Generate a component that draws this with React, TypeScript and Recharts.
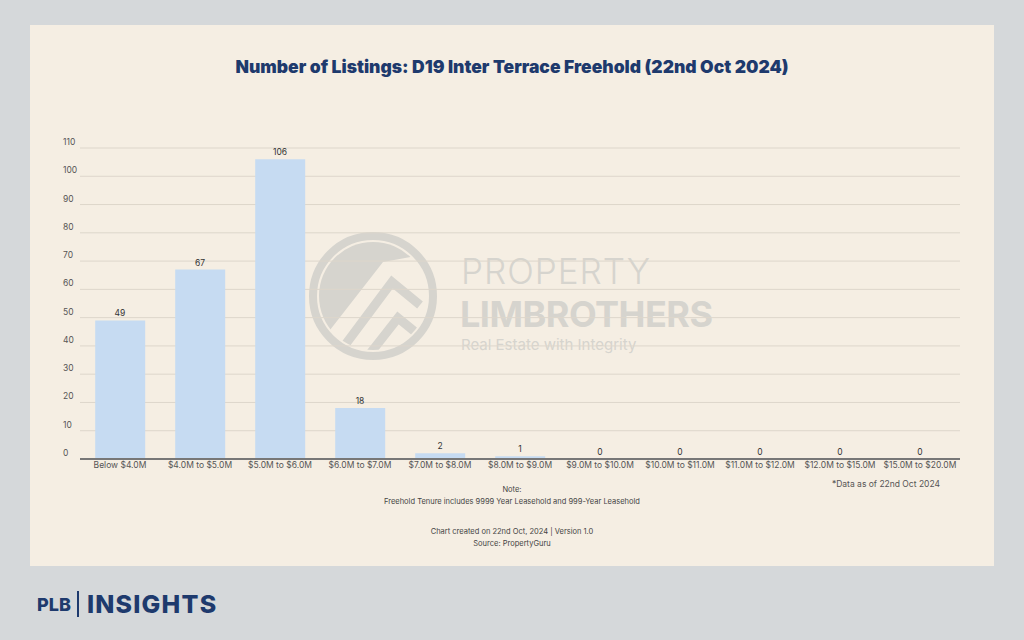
import React from 'react';
import { ComposedChart, Bar, Line, XAxis, YAxis, CartesianGrid, LabelList } from 'recharts';

const priceBands = [
  'Below $4.0M',
  '$4.0M to $5.0M',
  '$5.0M to $6.0M',
  '$6.0M to $7.0M',
  '$7.0M to $8.0M',
  '$8.0M to $9.0M',
  '$9.0M to $10.0M',
  '$10.0M to $11.0M',
  '$11.0M to $12.0M',
  '$12.0M to $15.0M',
  '$15.0M to $20.0M',
];
const listings = [49, 67, 106, 18, 2, 1, 0, 0, 0, 0, 0];
const yTicks = [0, 10, 20, 30, 40, 50, 60, 70, 80, 90, 100, 110];

const NAVY = '#1e3a6d';
const FONT = 'Inter, "Noto Sans", sans-serif';

const chartData = priceBands.map((band, i) => ({ band, listings: listings[i] }));

// y labels sit left-aligned, just above their gridline
const YTick = (props: any) => {
  const { y, payload } = props;
  return (
    <text x={63} y={y - 3} fontSize={8.5} fill="#555" fontFamily={FONT} textAnchor="start">
      {payload.value}
    </text>
  );
};

function Watermark() {
  return (
    <svg width={1024} height={640} style={{ position: 'absolute', left: 0, top: 0, pointerEvents: 'none' }}>
      <defs>
        <clipPath id="inner">
          <circle cx={373} cy={296} r={54} />
        </clipPath>
      </defs>
      <circle cx={373} cy={296} r={60} fill="none" stroke="#d6d4ce" strokeWidth={8} />
      <g clipPath="url(#inner)">
        <polygon points="300,230 450,230 450,250 383,262 330,330 300,330" fill="#d6d4ce" />
        <polyline points="345,345 392,282 420,305" fill="none" stroke="#d6d4ce" strokeWidth={9} />
        <polyline points="365,360 398,318 425,340" fill="none" stroke="#d6d4ce" strokeWidth={9} />
      </g>
      <text x={461} y={284} fontSize={35} fontWeight={300} fill="#d6d4ce" fontFamily={FONT} letterSpacing={1}>
        PROPERTY
      </text>
      <text x={460} y={327} fontSize={36} fontWeight={700} fill="#d6d4ce" fontFamily={FONT} letterSpacing={-0.5}>
        LIMBROTHERS
      </text>
      <text x={461} y={350} fontSize={15} fontWeight={400} fill="#d6d4ce" fontFamily={FONT}>
        Real Estate with Integrity
      </text>
    </svg>
  );
}

export default function App() {
  return (
    <div style={{ position: 'absolute', left: 0, top: 0, width: 1024, height: 640, background: '#d5d8da', fontFamily: FONT }}>
      <div style={{ position: 'absolute', left: 30, top: 25, width: 964, height: 541, background: '#f5eee3' }} />

      <div style={{ position: 'absolute', left: 0, top: 56, width: 1024, textAlign: 'center', color: NAVY, fontSize: 17.5, fontWeight: 900 }}>
        Number of Listings: D19 Inter Terrace Freehold (22nd Oct 2024)
      </div>

      <Watermark />

      <div style={{ position: 'absolute', left: 0, top: 0 }}>
        <ComposedChart
          width={1024}
          height={640}
          data={chartData}
          margin={{ top: 148, right: 64, left: 63, bottom: 161 }}
          barCategoryGap="19%"
        >
          <CartesianGrid horizontal vertical={false} stroke="#ddd6cb" strokeWidth={1} />
          <XAxis
            dataKey="band"
            interval={0}
            tickLine={false}
            tickSize={0}
            axisLine={{ stroke: '#777', strokeWidth: 2 }}
            tick={{ fontSize: 8.5, fill: '#555', fontFamily: FONT }}
            tickMargin={3}
            height={20}
          />
          <YAxis
            domain={[0, 110]}
            ticks={yTicks}
            width={17}
            axisLine={false}
            tickLine={false}
            tick={<YTick />}
          />
          <Bar dataKey="listings" fill="#c6dbf2" isAnimationActive={false} />
          {/* invisible series that only carries the value labels (zero bars get none otherwise) */}
          <Line
            dataKey="listings"
            stroke="none"
            dot={false}
            activeDot={false}
            legendType="none"
            isAnimationActive={false}
          >
            <LabelList dataKey="listings" position="top" offset={4} fontSize={8.5} fill="#333" fontFamily={FONT} />
          </Line>
        </ComposedChart>
      </div>

      <div style={{ position: 'absolute', left: 780, width: 160, top: 479, textAlign: 'right', fontSize: 8.5, color: '#555' }}>
        *Data as of 22nd Oct 2024
      </div>
      <div style={{ position: 'absolute', left: 0, width: 1024, top: 484, textAlign: 'center', fontSize: 7.5, color: '#444', lineHeight: '12px' }}>
        <div>Note:</div>
        <div>Freehold Tenure includes 9999 Year Leasehold and 999-Year Leasehold</div>
        <div style={{ marginTop: 18 }}>Chart created on 22nd Oct, 2024 | Version 1.0</div>
        <div>Source: PropertyGuru</div>
      </div>

      <div style={{ position: 'absolute', left: 37, top: 589, display: 'flex', alignItems: 'center', color: NAVY }}>
        <span style={{ fontSize: 18, fontWeight: 800 }}>PLB</span>
        <span style={{ display: 'inline-block', width: 2, height: 26, background: NAVY, margin: '0 8px 0 6px' }} />
        <span style={{ fontSize: 25, fontWeight: 800, letterSpacing: 1.2 }}>INSIGHTS</span>
      </div>
    </div>
  );
}
